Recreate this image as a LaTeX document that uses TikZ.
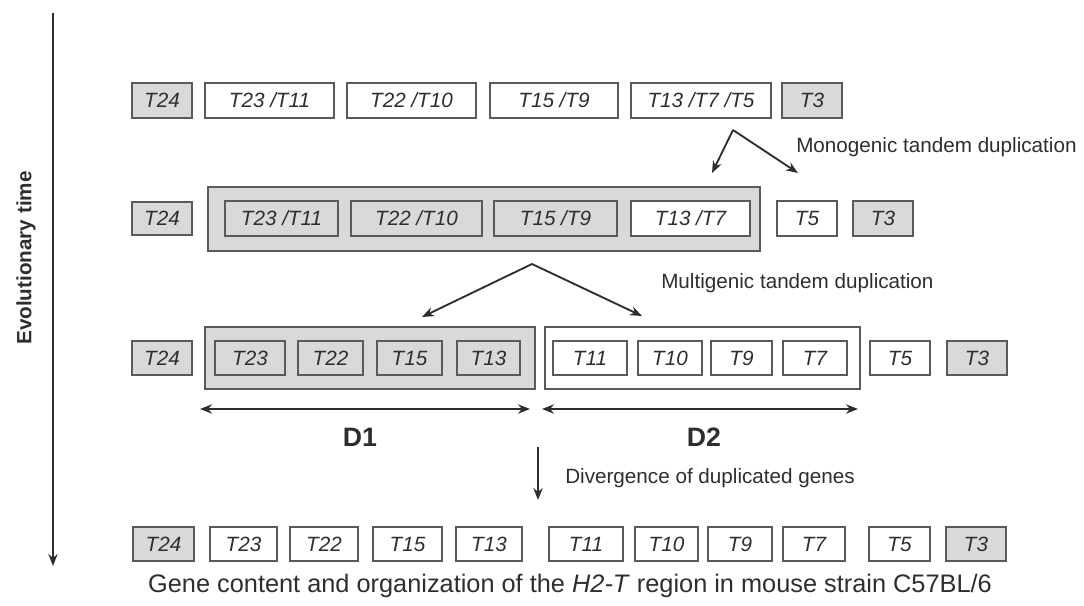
\documentclass[tikz,border=0pt]{standalone}
\usepackage{fontspec}
\setmainfont{Liberation Sans}
\usetikzlibrary{arrows.meta,fit}
\definecolor{edge}{HTML}{5A5A5A}
\definecolor{shade}{HTML}{D9D9D9}
\definecolor{ink}{HTML}{2E2E2E}
\tikzset{
  boxfont/.style={font=\fontsize{15.5}{18}\selectfont\itshape, text=ink, inner sep=0pt},
  gene/.style={draw=edge, line width=1.1pt, inner sep=0pt, fill=white,
    label={[boxfont]center:#1}},
  grey/.style={gene=#1, fill=shade},
  group/.style={draw=edge, line width=1.1pt, inner sep=0pt},
  arr/.style={draw=ink, line width=1.4pt, -{Stealth[length=9pt,width=7pt]}},
  dbl/.style={draw=ink, line width=1.4pt, {Stealth[length=9pt,width=7pt]}-{Stealth[length=9pt,width=7pt]}},
  lab/.style={font=\fontsize{15.5}{18}\selectfont, text=ink, inner sep=0pt}
}
\begin{document}
\begin{tikzpicture}[x=0.75pt,y=-0.75pt]
\useasboundingbox (0,0) rectangle (1084,606);
% axis
\coordinate (ax0) at (53,13);
\coordinate (ax1) at (53,566);
\draw[arr] (ax0) -- (ax1);
\node[lab, font=\fontsize{15.5}{18}\selectfont\bfseries, rotate=90] (axl) at (26,258) {Evolutionary time};

% row 1
\node[grey=T24, fit={(132,83) (192,118)}] (a1) {};
\node[gene=T23 /T11, fit={(205,83) (334,118)}] (a2) {};
\node[gene=T22 /T10, fit={(347,83) (476,118)}] (a3) {};
\node[gene=T15 /T9, fit={(490,83) (618,118)}] (a4) {};
\node[gene=T13 /T7 /T5, fit={(631,83) (771,118)}] (a5) {};
\node[grey=T3, fit={(782,83) (842,118)}] (a6) {};

% monogenic arrows
\coordinate (m0) at (733,130);
\coordinate (m1) at (712,173);
\coordinate (m2) at (798,173);
\draw[arr] (m0) -- (m1);
\draw[arr] (m0) -- (m2);
\node[lab, anchor=west] (ml) at (796,147) {Monogenic tandem duplication};

% row 2
\node[group, fill=shade, fit={(208,187) (760,251)}] (g2) {};
\node[grey=T24, fit={(132,202) (192,235)}] (b1) {};
\node[grey=T23 /T11, fit={(225,201) (338,236)}] (b2) {};
\node[grey=T22 /T10, fit={(351,201) (482,236)}] (b3) {};
\node[grey=T15 /T9, fit={(494,201) (617,236)}] (b4) {};
\node[gene=T13 /T7, fit={(631,201) (750,236)}] (b5) {};
\node[gene=T5, fit={(777,201) (837,236)}] (b6) {};
\node[grey=T3, fit={(853,201) (913,236)}] (b7) {};

% multigenic arrows
\coordinate (n0) at (532,264);
\coordinate (n1) at (422,317);
\coordinate (n2) at (642,316);
\draw[arr] (n0) -- (n1);
\draw[arr] (n0) -- (n2);
\node[lab, anchor=west] (nl) at (661,283) {Multigenic tandem duplication};

% row 3
\node[group, fill=shade, fit={(205,327) (535,389)}] (d1) {};
\node[group, fill=white, fit={(545,327) (860,389)}] (d2) {};
\node[grey=T24, fit={(132,341) (192,375)}] (c1) {};
\node[grey=T23, fit={(215,341) (285,375)}] (c2) {};
\node[grey=T22, fit={(298,341) (363,375)}] (c3) {};
\node[grey=T15, fit={(377,341) (442,375)}] (c4) {};
\node[grey=T13, fit={(457,341) (520,375)}] (c5) {};
\node[gene=T11, fit={(553,341) (627,375)}] (c6) {};
\node[gene=T10, fit={(638,341) (702,375)}] (c7) {};
\node[gene=T9, fit={(711,341) (772,375)}] (c8) {};
\node[gene=T7, fit={(783,341) (847,375)}] (c9) {};
\node[gene=T5, fit={(870,341) (930,375)}] (c10) {};
\node[grey=T3, fit={(947,341) (1007,375)}] (c11) {};

% D1 / D2 spans
\coordinate (s1a) at (200,409);
\coordinate (s1b) at (530,409);
\coordinate (s2a) at (542,409);
\coordinate (s2b) at (858,409);
\draw[dbl] (s1a) -- (s1b);
\draw[dbl] (s2a) -- (s2b);
\node[lab, font=\fontsize{20}{24}\selectfont\bfseries] (dl1) at (360,437) {D1};
\node[lab, font=\fontsize{20}{24}\selectfont\bfseries] (dl2) at (704,437) {D2};

% divergence
\coordinate (v0) at (538,447);
\coordinate (v1) at (538,500);
\draw[arr] (v0) -- (v1);
\node[lab, anchor=west] (vl) at (565,478) {Divergence of duplicated genes};

% row 4
\node[grey=T24, fit={(133,527) (194,561)}] (e1) {};
\node[gene=T23, fit={(210,527) (277,561)}] (e2) {};
\node[gene=T22, fit={(290,527) (358,561)}] (e3) {};
\node[gene=T15, fit={(373,527) (442,561)}] (e4) {};
\node[gene=T13, fit={(456,527) (522,561)}] (e5) {};
\node[gene=T11, fit={(549,527) (623,561)}] (e6) {};
\node[gene=T10, fit={(635,527) (698,561)}] (e7) {};
\node[gene=T9, fit={(708,527) (772,561)}] (e8) {};
\node[gene=T7, fit={(783,527) (845,561)}] (e9) {};
\node[gene=T5, fit={(869,527) (930,561)}] (e10) {};
\node[grey=T3, fit={(946,527) (1006,561)}] (e11) {};

% caption
\node[lab, font=\fontsize{19}{23}\selectfont] (cap) at (570,586) {Gene content and organization of the \textit{H2-T} region in mouse strain C57BL/6};
\end{tikzpicture}
\end{document}
